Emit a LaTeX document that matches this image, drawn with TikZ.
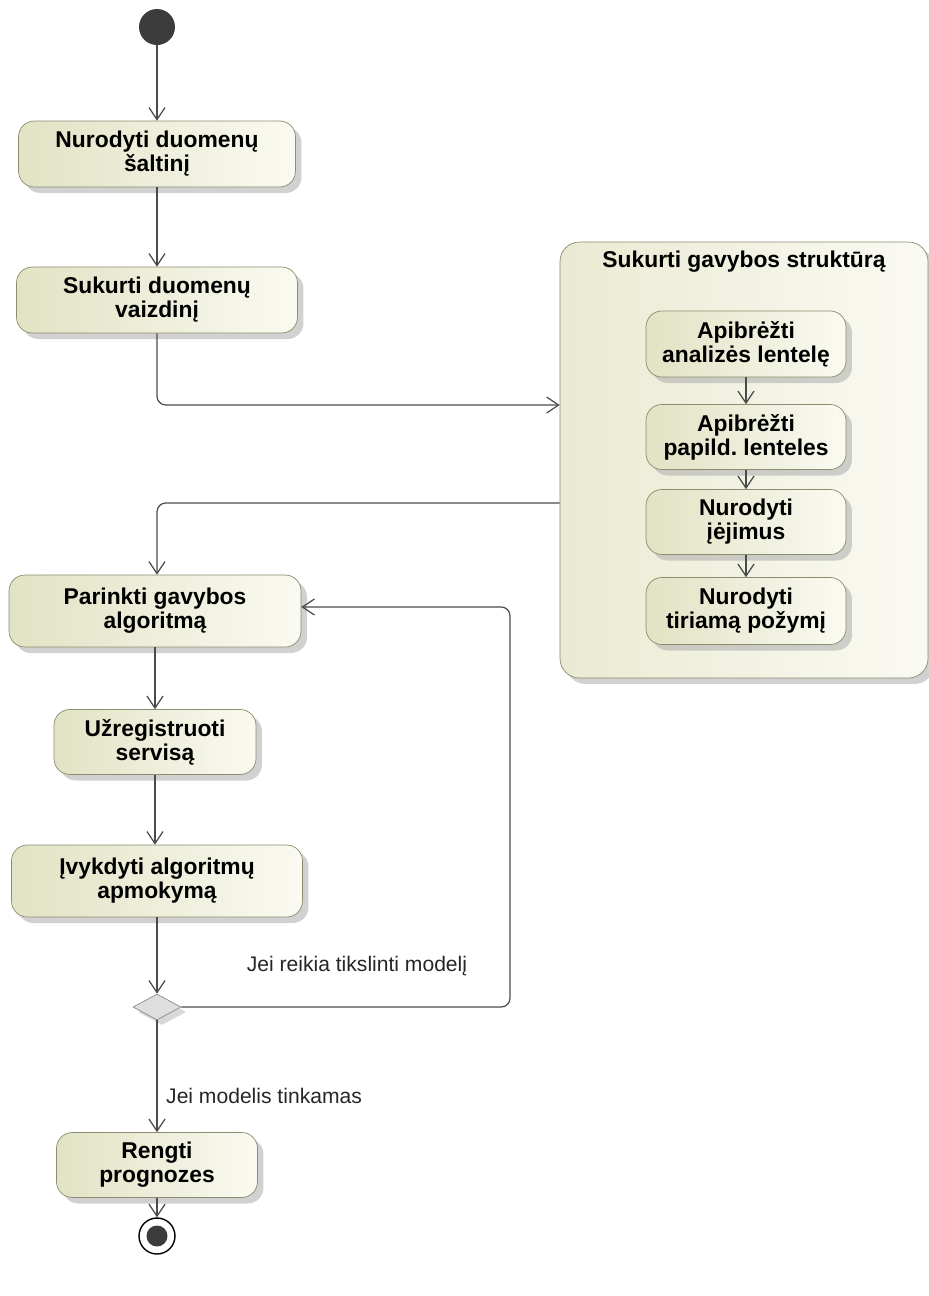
\documentclass[tikz,border=0pt]{standalone}
\usepackage{fontspec}
\setmainfont{Liberation Sans}
\usetikzlibrary{arrows.meta,positioning,shapes.geometric,shadows}

\begin{document}
\begin{tikzpicture}[
    x=0.02cm, y=-0.02cm,
    >={Straight Barb[length=2.4mm,width=3.2mm]},
    act/.style={draw=actline,rounded corners=9pt,left color=actleft,right color=actright,
        minimum height=1.32cm,align=center,font=\fontsize{13}{13.6}\selectfont\bfseries,
        drop shadow={shadow xshift=1.2mm,shadow yshift=-1.2mm,fill=black!30,opacity=0.6}},
    grp/.style={act,left color=grpleft,right color=grpright,rounded corners=11pt},
    flow/.style={->,draw=lineclr,line width=0.7pt,rounded corners=5pt},
    guard/.style={font=\fontsize{12}{13}\selectfont,text=black!85},
]
\definecolor{actline}{RGB}{140,140,110}  \definecolor{actleft}{RGB}{226,226,196}
\definecolor{actright}{RGB}{250,250,242}
\definecolor{grpleft}{RGB}{234,234,210}  \definecolor{grpright}{RGB}{250,250,244}
\definecolor{lineclr}{RGB}{75,75,75}
\definecolor{dotclr}{RGB}{60,60,60}

\useasboundingbox (0,0) rectangle (929,1296);

% ================= left column: data source and view =================
\node[circle,fill=dotclr,minimum size=0.72cm,inner sep=0pt] (start) at (157,27) {};
\node[act,minimum width=5.54cm] (src) at (157,154) {Nurodyti duomenų\\šaltinį};
\node[act,minimum width=5.62cm] (view) at (157,300) {Sukurti duomenų\\vaizdinį};

% ================= group: mining structure =================
\node[grp,minimum width=7.36cm,minimum height=8.72cm] (struct) at (744,460) {};
\node[font=\fontsize{13}{13.6}\selectfont\bfseries] (structT) at (744,262) {Sukurti gavybos struktūrą};
\node[act,minimum width=4.0cm] (tab) at (746,344) {Apibrėžti\\analizės lentelę};
\node[act,minimum width=4.0cm,minimum height=1.3cm] (xtab) at (746,437) {Apibrėžti\\papild.\ lenteles};
\node[act,minimum width=4.0cm,minimum height=1.3cm] (inp) at (746,522) {Nurodyti\\įėjimus};
\node[act,minimum width=4.0cm,minimum height=1.34cm] (feat) at (746,611) {Nurodyti\\tiriamą požymį};

% ================= left column: algorithm, training, forecast =================
\node[act,minimum width=5.84cm,minimum height=1.44cm] (algo) at (155,611) {Parinkti gavybos\\algoritmą};
\node[act,minimum width=4.04cm,minimum height=1.3cm] (reg) at (155,742) {Užregistruoti\\servisą};
\node[act,minimum width=5.82cm,minimum height=1.44cm] (train) at (157,881) {Įvykdyti algoritmų\\apmokymą};
\node[diamond,draw=black!45,fill=black!13,minimum width=0.96cm,minimum height=0.52cm,inner sep=0pt,
      drop shadow={shadow xshift=1mm,shadow yshift=-1mm,fill=black!30,opacity=0.5}] (dec) at (157,1007) {};
\node[act,minimum width=4.02cm,minimum height=1.3cm] (fcst) at (157,1165) {Rengti\\prognozes};
\node[circle,draw=black,line width=0.8pt,fill=white,minimum size=0.72cm,inner sep=0pt] (end) at (157,1236) {};
\node[circle,fill=dotclr,minimum size=0.42cm,inner sep=0pt] (endDot) at (end) {};

% ================= connectors =================
\draw[flow] (start) -- (src);
\draw[flow] (src) -- (view);
\draw[flow] (view.south) |- ([yshift=1.1cm]struct.west);
\draw[flow] (tab) -- (xtab);
\draw[flow] (xtab) -- (inp);
\draw[flow] (inp) -- (feat);
\draw[flow] ([yshift=-0.86cm]struct.west) -| ([xshift=0.04cm]algo.north);
\draw[flow] (algo) -- (reg);
\draw[flow] (reg.south) -- (reg.south |- train.north);
\draw[flow] (train) -- (dec);
\coordinate (back) at (510,1007);
\draw[flow] (dec.east) -- (back) |- ([yshift=0.08cm]algo.east);
\node[guard] (gRetry) at (357,966) {Jei reikia tikslinti modelį};
\draw[flow] (dec) -- (fcst);
\node[guard,anchor=west] (gOk) at (160,1096) {Jei modelis tinkamas};
\draw[flow] (fcst) -- (end);

\end{tikzpicture}
\end{document}
